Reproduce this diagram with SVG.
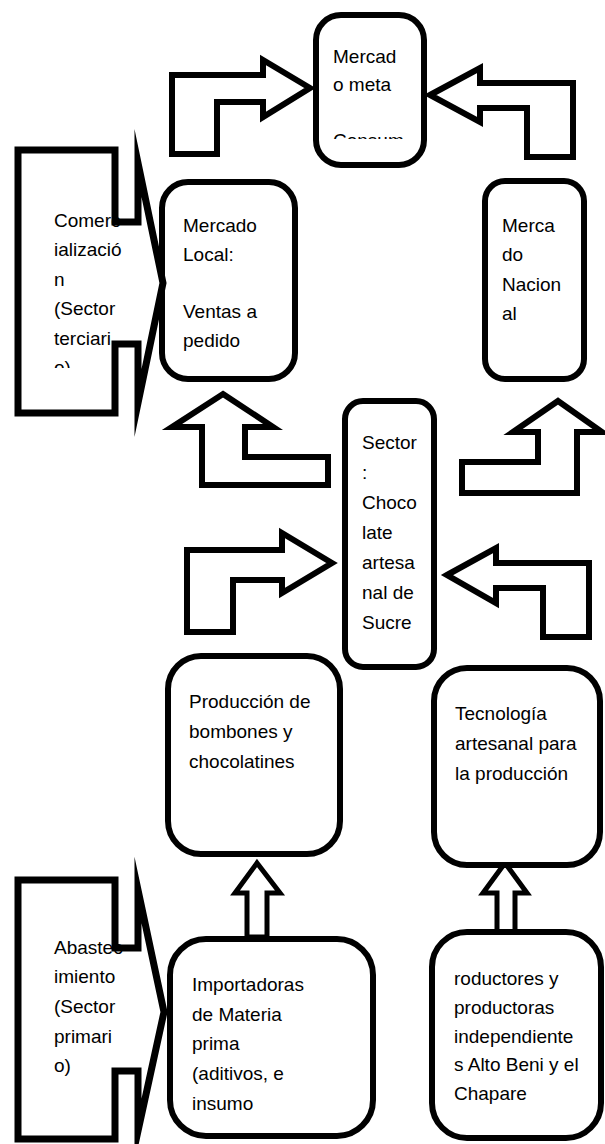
<svg xmlns="http://www.w3.org/2000/svg" width="605" height="1144" viewBox="0 0 605 1144">
<style>
.box{fill:#fff;stroke:#000;stroke-width:6}
.arr{fill:#fff;stroke:#000;stroke-width:6;stroke-linejoin:miter;stroke-miterlimit:10}
.arr2{fill:#fff;stroke:#000;stroke-width:5;stroke-linejoin:miter;stroke-miterlimit:10}
.co{fill:#fff;stroke:none}
.col{fill:none;stroke:#000;stroke-width:7;stroke-linejoin:miter;stroke-miterlimit:20}
.t{font-family:"Liberation Sans",Arial,sans-serif;font-size:19px;fill:#000}
</style>
<defs>
<clipPath id="clipTop"><rect x="318" y="0" width="104" height="139"/></clipPath>
<clipPath id="clipCom"><rect x="20" y="150" width="200" height="218"/></clipPath>
<path id="pCom" d="M18,150 L115,150 L115,222 L138,222 L138,163 L163,283 L138,403 L138,344 L115,344 L115,413 L18,413 Z"/>
<path id="pAba" d="M18,880 L115,880 L115,948 L138,948 L138,890 L164,1012 L138,1131 L138,1071 L115,1071 L115,1139 L18,1139 Z"/>
</defs>
<rect width="605" height="1144" fill="#fff"/>

<g id="connectors">
<path class="arr" d="M310,88 L263,60 L263,75 L172,75 L172,154 L217,154 L217,102 L263,102 L263,117 Z"/>
<path class="arr" d="M430,95 L480,68 L480,83 L573,83 L573,157 L527,157 L527,108 L480,108 L480,122 Z"/>
<path class="arr" d="M223,394 L273,427 L245,427 L245,457 L328,457 L328,485 L202,485 L202,427 L172,427 Z"/>
<path class="arr" d="M558,401 L602,432 L577,432 L577,493 L462,493 L462,462 L538,462 L538,432 L513,432 Z"/>
<path class="arr" d="M332,563 L282,533 L282,550 L187,550 L187,632 L233,632 L233,580 L282,580 L282,593 Z"/>
<path class="arr" d="M447,575 L496,548 L496,563 L589,563 L589,637 L543,637 L543,588 L496,588 L496,603 Z"/>
<path class="arr2" d="M257,863 L280,893 L267,893 L267,937 L247,937 L247,893 L235,893 Z"/>
<path class="arr2" d="M505,863 L527,893 L515,893 L515,933 L497,933 L497,893 L483,893 Z"/>
</g>

<g id="mercado-meta">
<rect class="box" x="316" y="15" width="108" height="150" rx="25"/>
<g clip-path="url(#clipTop)">
<text class="t" x="333" y="63">Mercad</text>
<text class="t" x="333" y="91">o meta</text>
<text class="t" x="333" y="147">Consum</text>
</g>
</g>

<g id="mercado-local">
<rect class="box" x="162" y="182" width="133" height="197" rx="26"/>
<text class="t" x="183" y="232">Mercado</text>
<text class="t" x="183" y="261">Local:</text>
<text class="t" x="183" y="318">Ventas a</text>
<text class="t" x="183" y="347">pedido</text>
</g>

<g id="mercado-nacional">
<rect class="box" x="485" y="181" width="99" height="198" rx="20"/>
<text class="t" x="502" y="232">Merca</text>
<text class="t" x="502" y="261">do</text>
<text class="t" x="502" y="291">Nacion</text>
<text class="t" x="502" y="320">al</text>
</g>

<g id="comercializacion">
<use href="#pCom" class="co"/>
<g clip-path="url(#clipCom)">
<text class="t" x="54" y="227">Comerc</text>
<text class="t" x="54" y="256">ializació</text>
<text class="t" x="54" y="286">n</text>
<text class="t" x="54" y="315">(Sector</text>
<text class="t" x="54" y="345">terciari</text>
<text class="t" x="54" y="374">o)</text>
</g>
<use href="#pCom" class="col"/>
</g>

<g id="sector">
<rect class="box" x="345" y="401" width="89" height="266" rx="18"/>
<text class="t" x="362" y="449">Sector</text>
<text class="t" x="362" y="479">:</text>
<text class="t" x="362" y="509">Choco</text>
<text class="t" x="362" y="539">late</text>
<text class="t" x="362" y="569">artesa</text>
<text class="t" x="362" y="599">nal de</text>
<text class="t" x="362" y="629">Sucre</text>
</g>

<g id="produccion">
<rect class="box" x="168" y="656" width="172" height="198" rx="33"/>
<text class="t" x="189" y="708">Producción de</text>
<text class="t" x="189" y="738">bombones y</text>
<text class="t" x="189" y="768">chocolatines</text>
</g>

<g id="tecnologia">
<rect class="box" x="434" y="668" width="166" height="197" rx="33"/>
<text class="t" x="455" y="720">Tecnología</text>
<text class="t" x="455" y="750">artesanal para</text>
<text class="t" x="455" y="780">la producción</text>
</g>

<g id="abastecimiento">
<use href="#pAba" class="co"/>
<text class="t" x="54" y="954">Abastec</text>
<text class="t" x="54" y="983">imiento</text>
<text class="t" x="54" y="1013">(Sector</text>
<text class="t" x="54" y="1043">primari</text>
<text class="t" x="54" y="1072">o)</text>
<use href="#pAba" class="col"/>
</g>

<g id="importadoras">
<rect class="box" x="170" y="939" width="203" height="197" rx="36"/>
<text class="t" x="192" y="991">Importadoras</text>
<text class="t" x="192" y="1021">de Materia</text>
<text class="t" x="192" y="1050">prima</text>
<text class="t" x="192" y="1080">(aditivos, e</text>
<text class="t" x="192" y="1110">insumo</text>
</g>

<g id="productores">
<rect class="box" x="432" y="932" width="169" height="206" rx="35"/>
<text class="t" x="454" y="985">roductores y</text>
<text class="t" x="454" y="1014">productoras</text>
<text class="t" x="454" y="1043">independiente</text>
<text class="t" x="454" y="1071">s Alto Beni y el</text>
<text class="t" x="454" y="1100">Chapare</text>
</g>
</svg>
